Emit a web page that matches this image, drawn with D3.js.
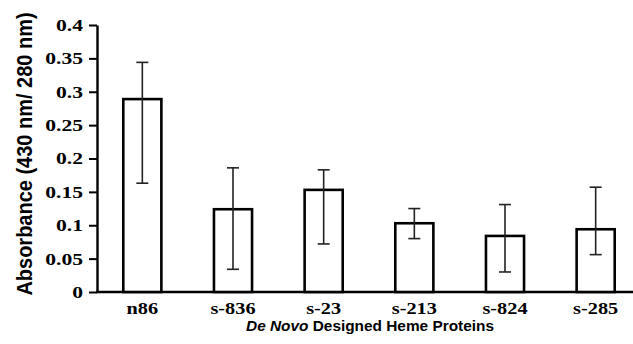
<!DOCTYPE html>
<html>
<head>
    <script src="https://cdnjs.cloudflare.com/ajax/libs/d3/7.8.5/d3.min.js"></script>
    <style>
      body { margin: 0; background: #fff; }
    </style>
</head>
<body>
    <svg id="chart" width="633" height="344"></svg>
    <script>
      // values
      const proteins = ['n86', 's-836', 's-23', 's-213', 's-824', 's-285']
      const absorbance = [0.289, 0.124, 0.153, 0.103, 0.084, 0.094]
      const errHigh = [0.344, 0.186, 0.183, 0.125, 0.131, 0.157]
      const errLow = [0.163, 0.034, 0.072, 0.080, 0.030, 0.056]
      const yTicks = [0, 0.05, 0.1, 0.15, 0.2, 0.25, 0.3, 0.35, 0.4]

      const serif = '"Liberation Serif", "Times New Roman", serif'
      const sans = '"Liberation Sans", Arial, sans-serif'
      const stretch = 1.27 // the source figure is a bit wider than tall

      const svg = d3.select('#chart')
      const x = d3.scaleBand().domain(proteins).range([97, 641])
        .paddingInner(0.58).paddingOuter(0.29)
      const y = d3.scaleLinear().domain([0, 0.4]).range([292, 25])

      // y axis
      const yAxis = svg.append('g')
        .attr('transform', 'translate(97,0)')
        .call(d3.axisLeft(y).tickValues(yTicks).tickSize(8).tickSizeOuter(0).tickPadding(0)
          .tickFormat(d => String(+d.toFixed(2))))
      yAxis.select('.domain').attr('stroke', '#000').attr('stroke-width', 2.4)
      yAxis.selectAll('.tick line').attr('stroke', '#000').attr('stroke-width', 2)
      yAxis.selectAll('.tick text')
        .attr('x', null)
        .attr('transform', 'translate(-14,0) scale(' + stretch + ',1)')
        .style('font-family', serif)
        .style('font-weight', 'bold').style('font-size', '17px').attr('fill', '#000')

      // x axis line
      svg.append('line').attr('x1', 96).attr('x2', 633).attr('y1', y(0)).attr('y2', y(0))
        .attr('stroke', '#000').attr('stroke-width', 2.4)

      // bars
      svg.selectAll('.bar').data(proteins).enter().append('rect')
        .attr('x', d => x(d))
        .attr('y', (d, i) => y(absorbance[i]))
        .attr('width', x.bandwidth())
        .attr('height', (d, i) => y(0) - y(absorbance[i]))
        .attr('fill', '#fff').attr('stroke', '#000').attr('stroke-width', 2.6)

      // error bars
      const cx = d => x(d) + x.bandwidth() / 2
      const eb = svg.selectAll('.err').data(proteins).enter().append('g')
        .attr('stroke', '#222').attr('stroke-width', 1.6)
      eb.append('line')
        .attr('x1', cx).attr('x2', cx)
        .attr('y1', (d, i) => y(errHigh[i])).attr('y2', (d, i) => y(errLow[i]))
      eb.append('line')
        .attr('x1', d => cx(d) - 6).attr('x2', d => cx(d) + 6)
        .attr('y1', (d, i) => y(errHigh[i])).attr('y2', (d, i) => y(errHigh[i]))
      eb.append('line')
        .attr('x1', d => cx(d) - 6).attr('x2', d => cx(d) + 6)
        .attr('y1', (d, i) => y(errLow[i])).attr('y2', (d, i) => y(errLow[i]))

      // category labels
      svg.selectAll('.cat').data(proteins).enter().append('text')
        .attr('transform', d => 'translate(' + cx(d) + ',314) scale(' + stretch + ',1)')
        .attr('text-anchor', 'middle')
        .style('font-family', serif)
        .style('font-weight', 'bold').style('font-size', '16px')
        .text(d => d)

      // axis titles
      const xt = svg.append('text')
        .attr('transform', 'translate(370,331) scale(1.1,1)')
        .attr('text-anchor', 'middle')
        .style('font-family', sans)
        .style('font-weight', 'bold').style('font-size', '14px')
      xt.append('tspan').style('font-style', 'italic').text('De Novo')
      xt.append('tspan').text(' Designed Heme Proteins')

      svg.append('text')
        .attr('transform', 'translate(32,154) scale(1.12,1) rotate(-90)')
        .attr('text-anchor', 'middle')
        .style('font-family', sans)
        .style('font-weight', 'bold').style('font-size', '20px')
        .text('Absorbance (430 nm/ 280 nm)')
    </script>
</body>
</html>
